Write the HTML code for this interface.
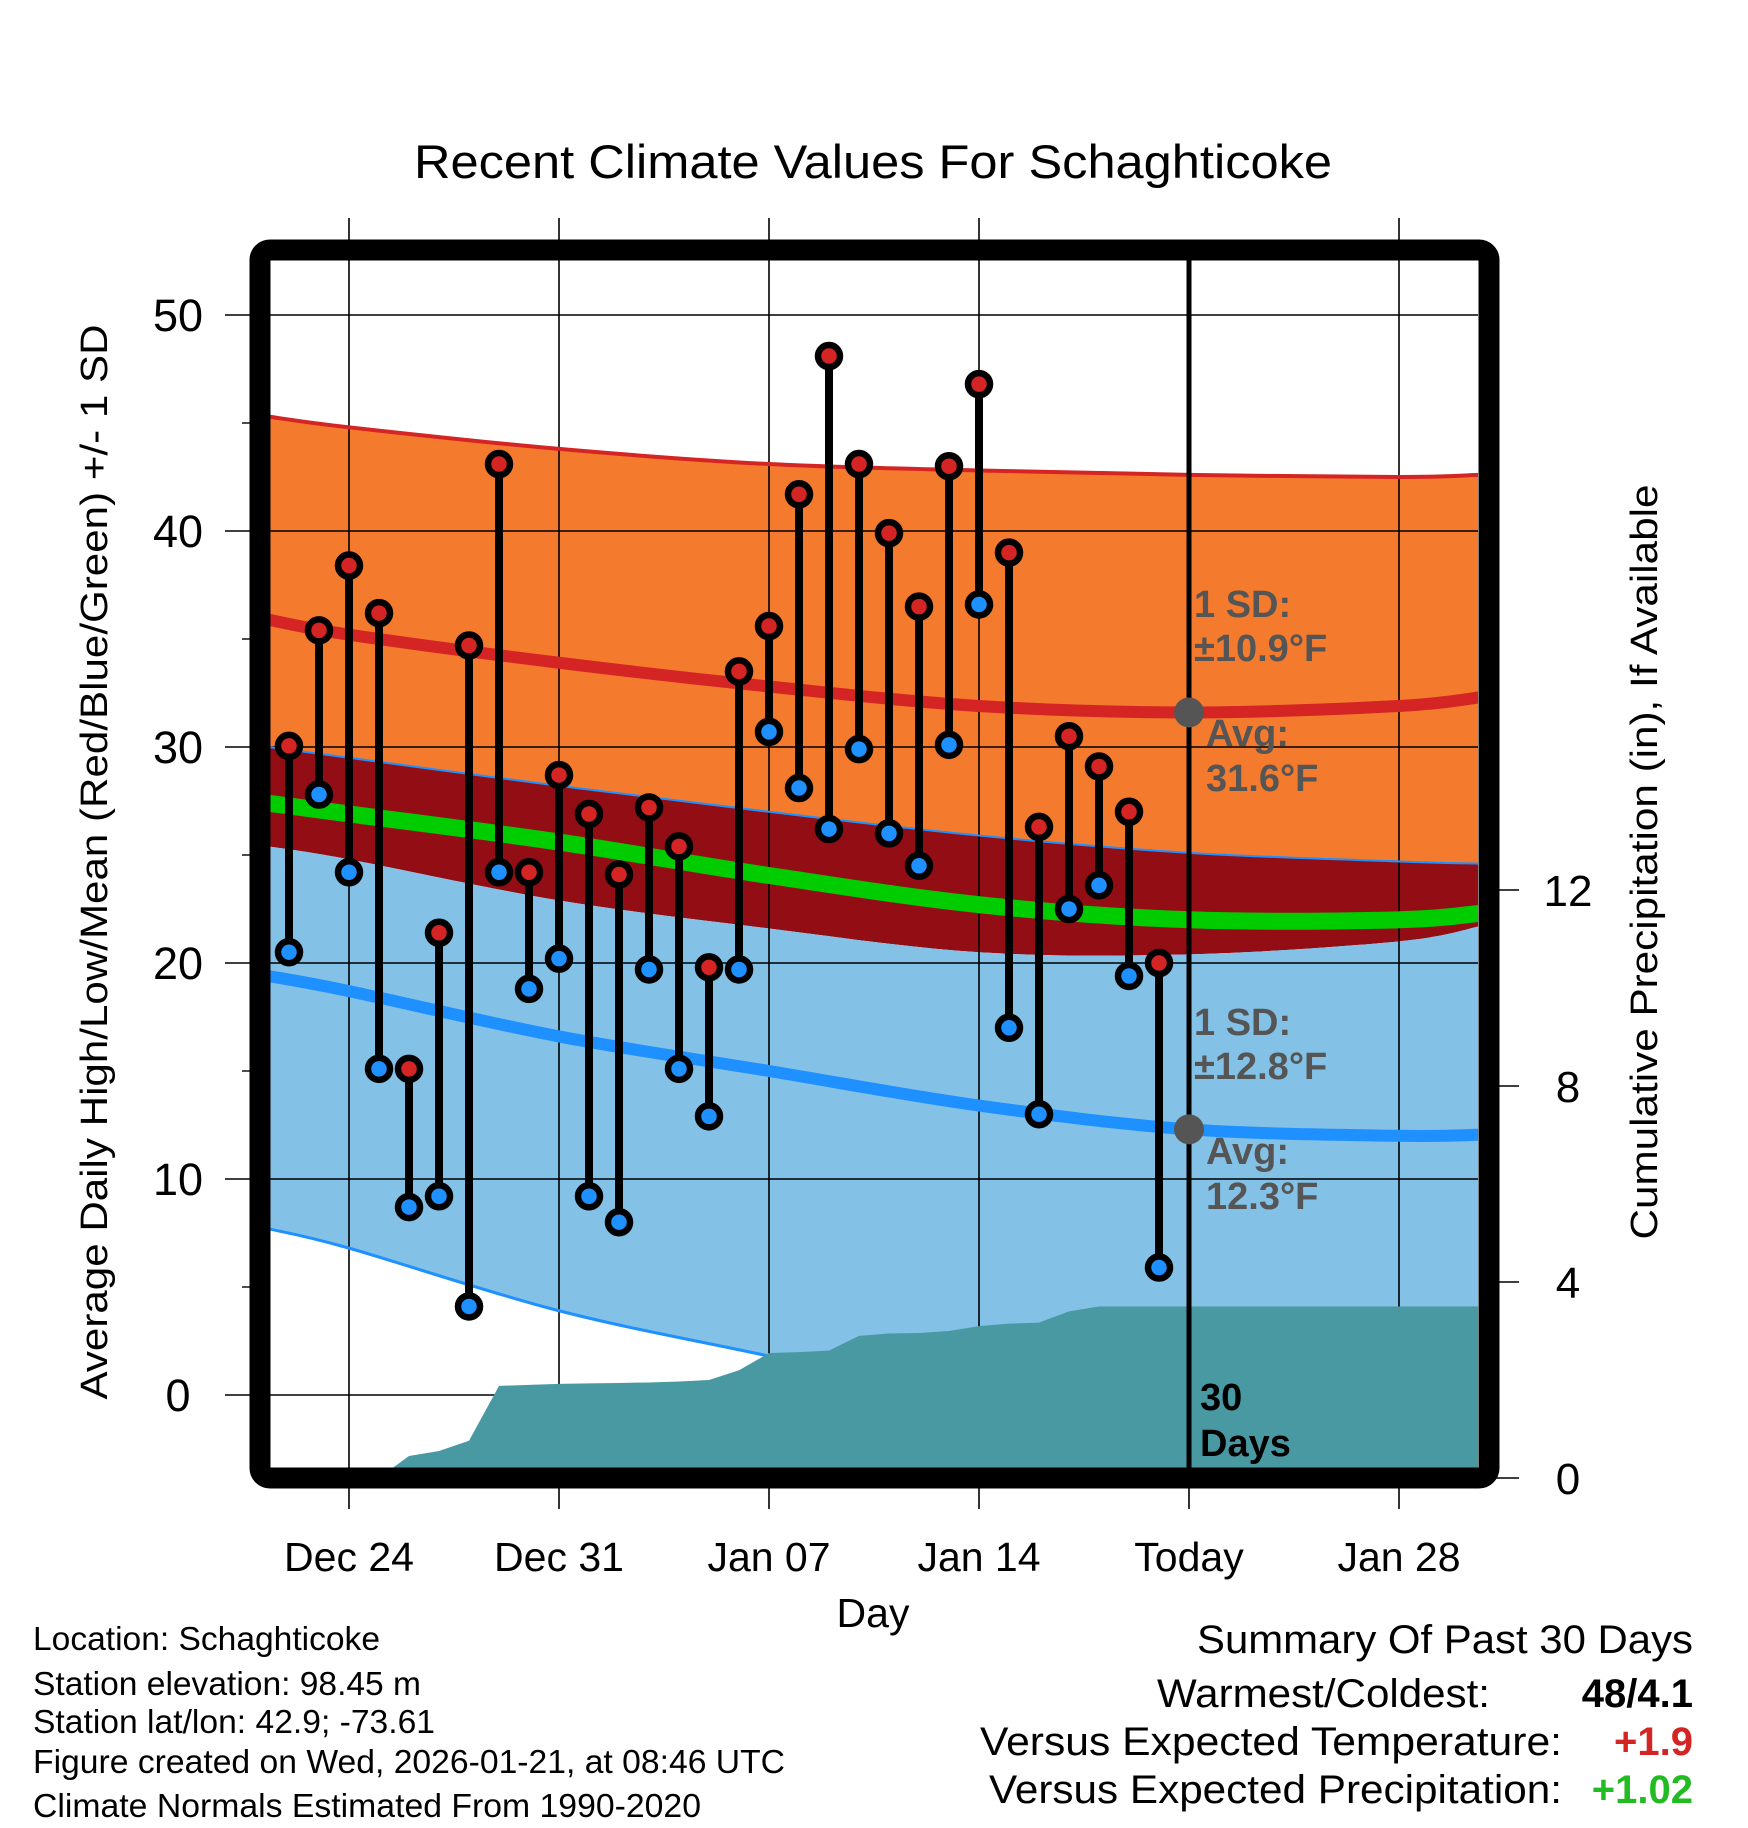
<!DOCTYPE html>
<html><head><meta charset="utf-8"><style>
html,body{margin:0;padding:0;background:#fff}
svg{display:block;font-family:"Liberation Sans",Arial,sans-serif}
</style></head><body>
<svg id="chart" width="1748" height="1828" viewBox="0 0 1748 1828" xmlns="http://www.w3.org/2000/svg">
<defs><clipPath id="plotclip"><rect x="270" y="260" width="1208" height="1208"/></clipPath></defs>
<rect width="1748" height="1828" fill="#fff"/>
<text x="873" y="178" font-size="47" text-anchor="middle" textLength="918" lengthAdjust="spacingAndGlyphs">Recent Climate Values For Schaghticoke</text>
<g id="fills" clip-path="url(#plotclip)"></g>
<g id="grid"></g>
<g id="lowlines" clip-path="url(#plotclip)"></g>
<g id="precip" clip-path="url(#plotclip)"></g>
<g id="lines" clip-path="url(#plotclip)"></g>
<g id="marks"></g>
<rect x="260" y="250" width="1229" height="1228" rx="10" fill="none" stroke="#000" stroke-width="21"/>
<text transform="translate(107,862) rotate(-90)" font-size="38" text-anchor="middle" textLength="1075" lengthAdjust="spacingAndGlyphs">Average Daily High/Low/Mean (Red/Blue/Green) +/- 1 SD</text>
<text transform="translate(1657,862) rotate(-90)" font-size="38" text-anchor="middle" textLength="755" lengthAdjust="spacingAndGlyphs">Cumulative Precipitation (in), If Available</text>
<text x="873" y="1627" font-size="41" text-anchor="middle">Day</text>
<g font-size="38" fill="#555" font-weight="bold">
<text x="1194" y="617">1 SD:</text>
<text x="1194" y="661">±10.9°F</text>
<text x="1206" y="746">Avg:</text>
<text x="1206" y="791">31.6°F</text>
<text x="1194" y="1035">1 SD:</text>
<text x="1194" y="1079">±12.8°F</text>
<text x="1206" y="1164">Avg:</text>
<text x="1206" y="1209">12.3°F</text>
</g>
<text x="1200" y="1410" font-size="38" font-weight="bold">30</text>
<text x="1200" y="1456" font-size="38" font-weight="bold">Days</text>
<g font-size="33">
<text x="33" y="1650" textLength="347" lengthAdjust="spacingAndGlyphs">Location: Schaghticoke</text>
<text x="33" y="1695" textLength="388" lengthAdjust="spacingAndGlyphs">Station elevation: 98.45 m</text>
<text x="33" y="1733" textLength="402" lengthAdjust="spacingAndGlyphs">Station lat/lon: 42.9; -73.61</text>
<text x="33" y="1773" textLength="752" lengthAdjust="spacingAndGlyphs">Figure created on Wed, 2026-01-21, at 08:46 UTC</text>
<text x="33" y="1817" textLength="668" lengthAdjust="spacingAndGlyphs">Climate Normals Estimated From 1990-2020</text>
</g>
<g font-size="40">
<text x="1693" y="1653" text-anchor="end" textLength="496" lengthAdjust="spacingAndGlyphs">Summary Of Past 30 Days</text>
<text x="1490" y="1707" text-anchor="end" textLength="333" lengthAdjust="spacingAndGlyphs">Warmest/Coldest:</text>
<text x="1693" y="1707" text-anchor="end" font-weight="bold">48/4.1</text>
<text x="1562" y="1755" text-anchor="end" textLength="582" lengthAdjust="spacingAndGlyphs">Versus Expected Temperature:</text>
<text x="1693" y="1755" text-anchor="end" font-weight="bold" fill="#D42424">+1.9</text>
<text x="1562" y="1803" text-anchor="end" textLength="573" lengthAdjust="spacingAndGlyphs">Versus Expected Precipitation:</text>
<text x="1693" y="1803" text-anchor="end" font-weight="bold" fill="#22BB22">+1.02</text>
</g>
</svg>
<script>
// day index 0 = Dec 22
const xTickLabels = ["Dec 24","Dec 31","Jan 07","Jan 14","Today","Jan 28"];
const xTickDays = [2, 9, 16, 23, 30, 37];
const yTicks = [0, 10, 20, 30, 40, 50];
const y2Ticks = [0, 4, 8, 12];
const highs = [30.05,35.4,38.4,36.2,15.1,21.4,34.7,43.1,24.2,28.7,26.9,24.1,27.2,25.4,19.8,33.5,35.6,41.7,48.1,43.1,39.9,36.5,43.0,46.8,39.0,26.3,30.5,29.1,27.0,20.0];
const lows = [20.5,27.8,24.2,15.1,8.7,9.2,4.1,24.2,18.8,20.2,9.2,8.0,19.7,15.1,12.9,19.7,30.7,28.1,26.2,29.9,26.0,24.5,30.1,36.6,17.0,13.0,22.5,23.6,19.4,5.9];
const precip = [0,0,0,0,0.45,0.55,0.76,1.88,1.9,1.92,1.93,1.94,1.95,1.97,2.0,2.2,2.55,2.57,2.6,2.9,2.95,2.96,3.0,3.1,3.15,3.17,3.4,3.5,3.5,3.5];
const normDays = [-0.7, 2, 9, 16, 23, 30, 37, 39.7];
const highSdTop = [45.3, 44.8, 43.8, 43.1, 42.8, 42.6, 42.5, 42.6];
const highAvg = [35.9, 35.2, 33.9, 32.8, 31.9, 31.6, 31.9, 32.3];
const lowSdTop = [30.0, 29.5, 28.2, 27.0, 25.9, 25.1, 24.7, 24.6];
const meanAvg = [27.4, 26.9, 25.6, 24.05, 22.7, 22.0, 22.0, 22.3];
const highSdBot = [25.4, 24.8, 22.9, 21.6, 20.5, 20.4, 21.0, 21.7];
const lowAvg = [19.4, 18.7, 16.6, 15.0, 13.4, 12.3, 12.0, 12.05];
const lowSdBot = [7.7, 6.8, 3.9, 1.8, -0.3, -0.8, -0.7, -0.5];
const todayHighAvg = 31.6, todayLowAvg = 12.3, todayDay = 30;

const NS = "http://www.w3.org/2000/svg";
const X = d => 349 + (d - 2) * 30;
const Y = t => 1395 - 21.6 * t;
const YP = p => 1478 - 49 * p;
function mk(tag, attrs, parent){const e=document.createElementNS(NS,tag);for(const k in attrs)e.setAttribute(k,attrs[k]);parent.appendChild(e);return e;}
function pts(vals){return normDays.map((d,i)=>[X(d),Y(vals[i])]);}
function smooth(p){let s="";for(let i=0;i<p.length-1;i++){const p0=p[i-1]||p[i],p1=p[i],p2=p[i+1],p3=p[i+2]||p2;
 const c1=[p1[0]+(p2[0]-p0[0])/6,p1[1]+(p2[1]-p0[1])/6],c2=[p2[0]-(p3[0]-p1[0])/6,p2[1]-(p3[1]-p1[1])/6];
 s+=" C"+c1[0]+","+c1[1]+" "+c2[0]+","+c2[1]+" "+p2[0]+","+p2[1];}return s;}
function line(vals){const p=pts(vals);return "M"+p[0][0]+","+p[0][1]+smooth(p);}
function band(top,bot){const a=pts(top),b=pts(bot).reverse();return "M"+a[0][0]+","+a[0][1]+smooth(a)+" L"+b[0][0]+","+b[0][1]+smooth(b)+" Z";}

const fills=document.getElementById('fills');
let e;
e=mk('path',{d:band(highSdTop,lowSdTop),fill:'#F47A2E'},fills);


e=mk('path',{d:band(lowSdTop,highSdBot),fill:'#930E14'},fills);


e=mk('path',{d:band(highSdBot,lowSdBot),fill:'#83C1E6'},fills);



const grid=document.getElementById('grid');
yTicks.forEach(t=>{e=mk('line',{x1:225,x2:1478,y1:Y(t),y2:Y(t),stroke:'#000','stroke-width':1.6},grid);


e=mk('text',{x:178,y:Y(t)+16,'font-size':45,'text-anchor':'middle'},grid);e.textContent=t;

});
[5,15,25,35,45].forEach(t=>{mk('line',{x1:242,x2:252,y1:Y(t),y2:Y(t),stroke:'#000','stroke-width':1.4},grid);});
xTickDays.forEach((d,i)=>{
 if(xTickLabels[i]!=="Today"){e=mk('line',{x1:X(d),x2:X(d),y1:218,y2:1509,stroke:'#000','stroke-width':1.6},grid);
 
 }
 else {mk('line',{x1:X(d),x2:X(d),y1:1478,y2:1509,stroke:'#000','stroke-width':1.6},grid);}
 e=mk('text',{x:X(d),y:1571,'font-size':41,'text-anchor':'middle'},grid);e.textContent=xTickLabels[i];
 
 
});
y2Ticks.forEach(p=>{mk('line',{x1:1489,x2:1519,y1:YP(p),y2:YP(p),stroke:'#000','stroke-width':1.6},grid);
 e=mk('text',{x:1568,y:YP(p)+16,'font-size':44,'text-anchor':'middle'},grid);e.textContent=p;
 
 });

const ll=document.getElementById('lowlines');
e=mk('path',{d:line(lowSdBot),fill:'none',stroke:'#1E90FF','stroke-width':3},ll);



const pg=document.getElementById('precip');
let pd="M"+X(3)+","+YP(0);
precip.forEach((p,i)=>{pd+=" L"+X(i)+","+YP(p);});
pd+=" L1480,"+YP(precip[precip.length-1])+" L1480,1480 L"+X(0)+",1480 Z";
e=mk('path',{d:pd,fill:'#4899A2'},pg);



const lg=document.getElementById('lines');
e=mk('path',{d:line(highSdTop),fill:'none',stroke:'#D42424','stroke-width':4},lg);


e=mk('path',{d:line(lowSdTop),fill:'none',stroke:'#1E90FF','stroke-width':2},lg);


e=mk('path',{d:line(meanAvg),fill:'none',stroke:'#00CC00','stroke-width':17},lg);


e=mk('path',{d:line(highAvg),fill:'none',stroke:'#D42424','stroke-width':12},lg);


e=mk('path',{d:line(lowAvg),fill:'none',stroke:'#1E90FF','stroke-width':12},lg);



const mg=document.getElementById('marks');
e=mk('line',{x1:X(todayDay),x2:X(todayDay),y1:260,y2:1470,stroke:'#000','stroke-width':5},mg);


e=mk('circle',{cx:X(todayDay),cy:Y(todayHighAvg),r:15,fill:'#555'},mg);


e=mk('circle',{cx:X(todayDay),cy:Y(todayLowAvg),r:15,fill:'#555'},mg);


highs.forEach((h,i)=>{
 e=mk('line',{x1:X(i),x2:X(i),y1:Y(h),y2:Y(lows[i]),stroke:'#000','stroke-width':8},mg);
 
 
});
highs.forEach((h,i)=>{
 e=mk('circle',{cx:X(i),cy:Y(h),r:11,fill:'#D42424',stroke:'#000','stroke-width':6.5},mg);
 
 
 e=mk('circle',{cx:X(i),cy:Y(lows[i]),r:11,fill:'#1E90FF',stroke:'#000','stroke-width':6.5},mg);
 
 
});
</script>
</body></html>
